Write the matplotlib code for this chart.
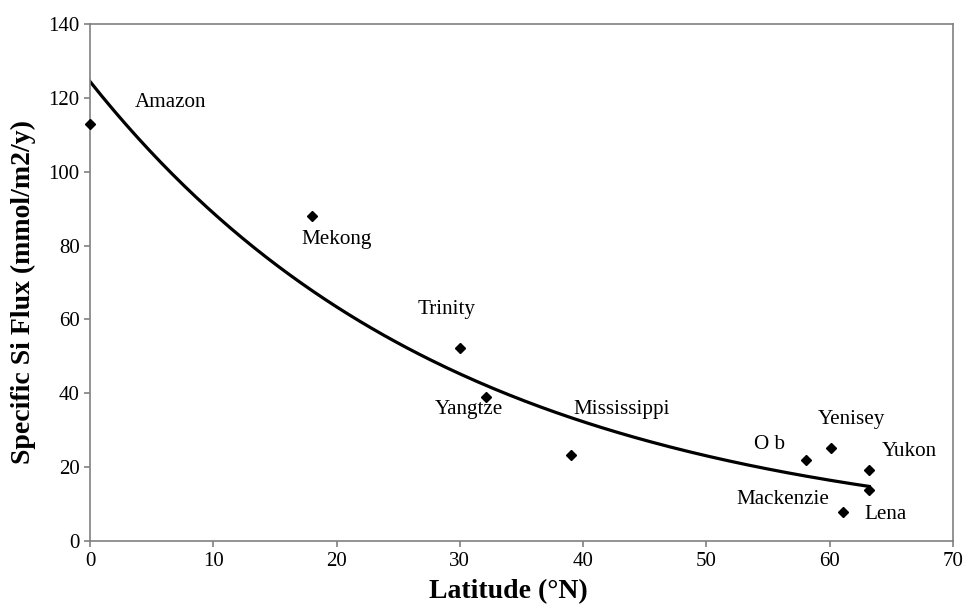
import numpy as np
import matplotlib
matplotlib.use("Agg")
import matplotlib.pyplot as plt

plt.rcParams['font.family'] = ['Liberation Serif', 'DejaVu Serif']

# river data
rivers = ['Amazon', 'Mekong', 'Trinity', 'Yangtze', 'Mississippi',
          'O b', 'Yenisey', 'Yukon', 'Mackenzie', 'Lena']
latitude = [0, 18, 30, 32.1, 39, 58.1, 60.1, 63.2, 63.2, 61.1]
si_flux = [112.8, 87.9, 52.2, 38.9, 23.3, 21.9, 25.3, 19.2, 13.8, 7.8]

# where the name labels sit
label_x = [6.5, 20.0, 28.9, 30.7, 43.1, 55.1, 61.8, 66.5, 56.2, 64.5]
label_y = [118.7, 81.6, 62.6, 35.5, 35.5, 26.0, 33.0, 24.2, 11.3, 7.2]

x_ticks = [0, 10, 20, 30, 40, 50, 60, 70]
y_ticks = [0, 20, 40, 60, 80, 100, 120, 140]

fig = plt.figure(figsize=(9.66, 6.05), dpi=100)
ax = fig.add_axes([0.0932, 0.1058, 0.8933, 0.8545])

# exponential trendline (fit of log y on x, like the spreadsheet one)
b, a = np.polyfit(latitude, np.log(si_flux), 1)
xf = np.linspace(0, max(latitude), 200)
ax.plot(xf, np.exp(a) * np.exp(b * xf), color='black', lw=2.3, zorder=2)

ax.plot(latitude, si_flux, 'D', color='black', markersize=5.5, zorder=3,
        clip_on=False)

for name, lx, ly in zip(rivers, label_x, label_y):
    ax.text(lx, ly, name, fontsize=15.2, ha='center', va='center')

ax.set_xlim(0, 70)
ax.set_ylim(0, 140)
ax.set_xticks(x_ticks)
ax.set_yticks(y_ticks)
ax.tick_params(labelsize=15, length=4, color='#808080', width=1.2)
ax.tick_params(axis='x', pad=4)
for s in ax.spines.values():
    s.set_color('#808080')
    s.set_linewidth(1.2)

# axis titles placed by hand (slightly off-centre in the original)
fig.text(508 / 966, 1 - 592 / 605, 'Latitude (°N)', fontsize=20,
         fontweight='bold', ha='center', va='center')
fig.text(23 / 966, 1 - 292 / 605, 'Specific Si Flux (mmol/m2/y)', fontsize=20,
         fontweight='bold', ha='center', va='center', rotation=90)

fig.savefig('out.png', dpi=100)
